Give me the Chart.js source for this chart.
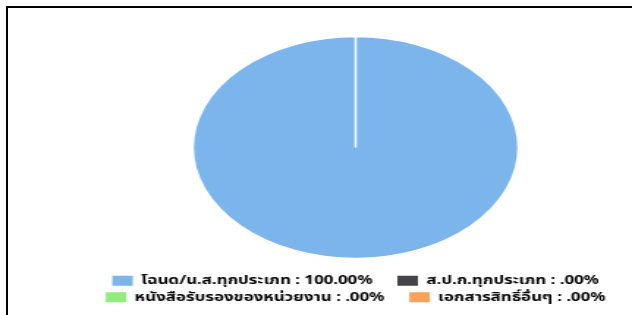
<!DOCTYPE html>
<html>
<head>
<meta charset="utf-8">
<script src="https://cdn.jsdelivr.net/npm/chart.js@4"></script>
<style>
  html, body { margin: 0; padding: 0; background: #fff; overflow: hidden; }
  body { width: 632px; height: 315px; position: relative; }
  .line { position: absolute; background: #000; }
  #lineTop { left: 6px; top: 6px; width: 626px; height: 2px; }
  #lineLeft { left: 6px; top: 6px; width: 2px; height: 309px; }
  /* the picture is stretched sideways, so the chart is too */
  #wrap { position: absolute; left: 0; top: 0; width: 431px; height: 315px;
          transform: scaleX(1.4664); transform-origin: 0 0; }
</style>
</head>
<body>
<div class="line" id="lineTop"></div>
<div class="line" id="lineLeft"></div>
<div id="wrap"><canvas id="pie" width="431" height="315"></canvas></div>
<script>
// ประเภทเอกสารสิทธิ์
var labels = ["โฉนด/น.ส.ทุกประเภท", "ส.ป.ก.ทุกประเภท", "หนังสือรับรองของหน่วยงาน", "เอกสารสิทธิ์อื่นๆ"];
var values = [100.00, 0, 0, 0];
var pctText = ["100.00%", ".00%", ".00%", ".00%"];
var colors = ["#7cb5ec", "#434348", "#90ed7d", "#f7a35c"];

var ctx = document.getElementById("pie").getContext("2d");
var chart = new Chart(ctx, {
    type: 'pie',
    data: {
        labels: labels,
        datasets: [{
            data: values,
            backgroundColor: colors,
            borderColor: "#ffffff",
            borderWidth: 1.5
        }]
    },
    options: {
        responsive: false,
        animation: false,
        radius: 111,
        layout: { padding: { left: 54, right: 0, top: 25, bottom: 2 } },
        plugins: {
            tooltip: { enabled: false },
            legend: {
                position: 'bottom',
                labels: {
                    boxWidth: 14,
                    boxHeight: 10,
                    padding: 5,
                    color: "#333333",
                    font: { family: "'Noto Sans', 'Noto Sans Thai', sans-serif", size: 11.5, weight: 'bold' },
                    generateLabels: function (c) {
                        return labels.map(function (l, i) {
                            return {
                                // ช่องว่างท้ายคอลัมน์แรก ให้ระยะห่างเหมือนต้นฉบับ
                                text: l + " : " + pctText[i] + (i % 2 === 0 ? "    " : ""),
                                fillStyle: colors[i],
                                strokeStyle: colors[i],
                                lineWidth: 0,
                                hidden: false,
                                index: i
                            };
                        });
                    }
                }
            }
        }
    }
});
</script>
</body>
</html>
